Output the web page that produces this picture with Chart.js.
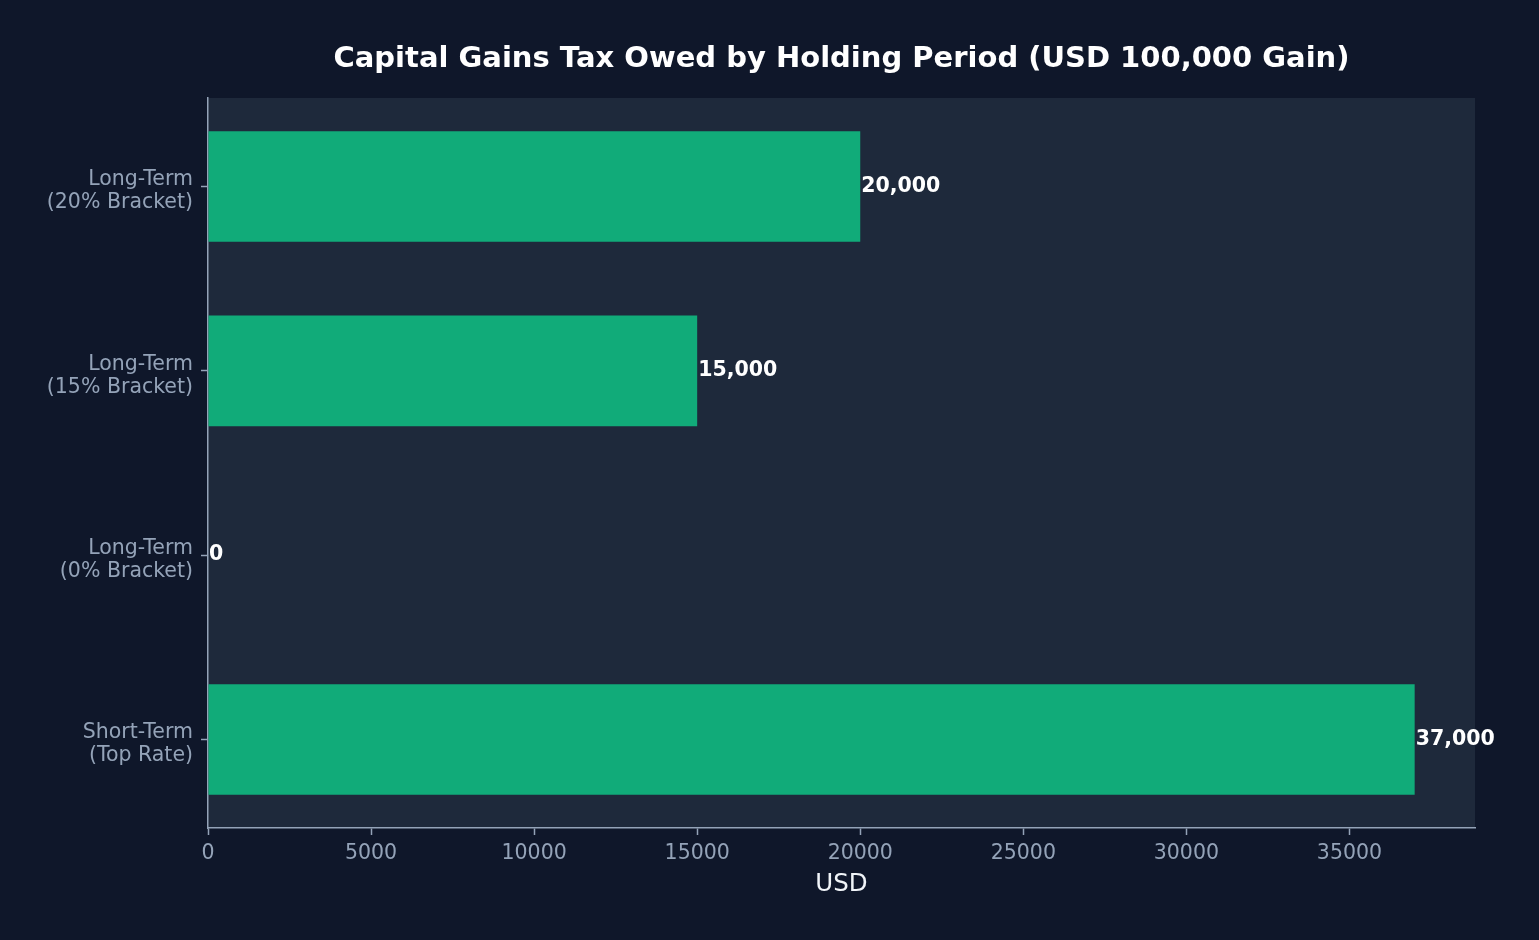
<!DOCTYPE html>
<html>
<head>
<meta charset="utf-8">
<script src="https://cdn.jsdelivr.net/npm/chart.js@4.4.1/dist/chart.umd.min.js"></script>
<style>
  html, body { margin: 0; padding: 0; background: #0f172a; }
  canvas { display: block; }
</style>
</head>
<body>
<canvas id="tax-chart" width="1539" height="940"></canvas>
<script>
// data
const categories = [
    ["Long-Term", "(20% Bracket)"],
    ["Long-Term", "(15% Bracket)"],
    ["Long-Term", "(0% Bracket)"],
    ["Short-Term", "(Top Rate)"],
];
const taxOwed = [20000, 15000, 0, 37000];
const xTicks = [0, 5000, 10000, 15000, 20000, 25000, 30000, 35000];

const titleText = "Capital Gains Tax Owed by Holding Period (USD 100,000 Gain)";
const tickColor = "#94a3b8";
const fontFamily = "'DejaVu Sans', sans-serif";

// plot background + title
const backdrop = {
    id: "backdrop",
    beforeDraw(chart) {
        const { ctx, chartArea } = chart;
        ctx.save();
        ctx.fillStyle = "#1e293b";
        ctx.fillRect(chartArea.left, chartArea.top, chartArea.right - chartArea.left, chartArea.bottom - chartArea.top);
        ctx.fillStyle = "#ffffff";
        ctx.font = "bold 29px " + fontFamily;
        ctx.textAlign = "center";
        ctx.textBaseline = "middle";
        ctx.fillText(titleText, (chartArea.left + chartArea.right) / 2, 59);
        ctx.restore();
    },
};

// value at the end of each bar
const valueLabels = {
    id: "valueLabels",
    afterDatasetsDraw(chart) {
        const { ctx } = chart;
        const meta = chart.getDatasetMeta(0);
        ctx.save();
        ctx.fillStyle = "#ffffff";
        ctx.font = "bold 20.5px " + fontFamily;
        ctx.textAlign = "left";
        ctx.textBaseline = "middle";
        meta.data.forEach((bar, i) => {
            ctx.fillText(taxOwed[i].toLocaleString("en-US"), bar.x + 1, bar.y);
        });
        ctx.restore();
    },
};

const canvas = document.querySelector("#tax-chart");

// bars placed on a numeric index axis so the spacing follows the plot margins
const points = taxOwed.map((v, i) => ({ x: v, y: i }));

let options = {
    type: "bar",
    data: {
        datasets: [
            {
                label: "Tax owed",
                data: points,
                backgroundColor: "rgba(16, 185, 129, 0.9)",
                barPercentage: 0.6,
                categoryPercentage: 1.0,
            },
        ],
    },
    options: {
        indexAxis: "y",
        responsive: false,
        devicePixelRatio: 1,
        animation: false,
        layout: {
            padding: { left: 0, right: 64, top: 98, bottom: 0 },
        },
        scales: {
            x: {
                type: "linear",
                min: 0,
                max: 38850,
                afterBuildTicks(scale) {
                    scale.ticks = xTicks.map(v => ({ value: v }));
                },
                afterFit(scale) {
                    scale.height = 112;
                },
                grid: {
                    drawOnChartArea: false,
                    offset: false,
                    tickLength: 7,
                    tickColor: tickColor,
                    tickWidth: 1.5,
                },
                border: { display: true, color: tickColor, width: 1.5 },
                ticks: {
                    color: tickColor,
                    font: { family: fontFamily, size: 20.5 },
                    padding: 6,
                    maxRotation: 0,
                    callback: (value) => String(value),
                },
                title: {
                    display: true,
                    text: "USD",
                    color: "#f1f5f9",
                    font: { family: fontFamily, size: 24.5 },
                    padding: { top: 0, bottom: 41 },
                },
            },
            y: {
                type: "linear",
                reverse: true,
                min: -0.48,
                max: 3.48,
                offset: false,
                afterBuildTicks(scale) {
                    scale.ticks = categories.map((c, i) => ({ value: i }));
                },
                afterFit(scale) {
                    scale.width = 208;
                },
                grid: {
                    drawOnChartArea: false,
                    offset: false,
                    tickLength: 7,
                    tickColor: tickColor,
                    tickWidth: 1.5,
                },
                border: { display: true, color: tickColor, width: 1.5 },
                ticks: {
                    color: tickColor,
                    font: { family: fontFamily, size: 20.5, lineHeight: 1.12 },
                    padding: 8,
                    labelOffset: 5,
                    callback: (value) => categories[value],
                },
            },
        },
        plugins: {
            legend: { display: false },
            title: { display: false },
            tooltip: { enabled: false },
        },
    },
    plugins: [backdrop, valueLabels],
};

const chart = new Chart(canvas.getContext("2d"), options);
</script>
</body>
</html>
